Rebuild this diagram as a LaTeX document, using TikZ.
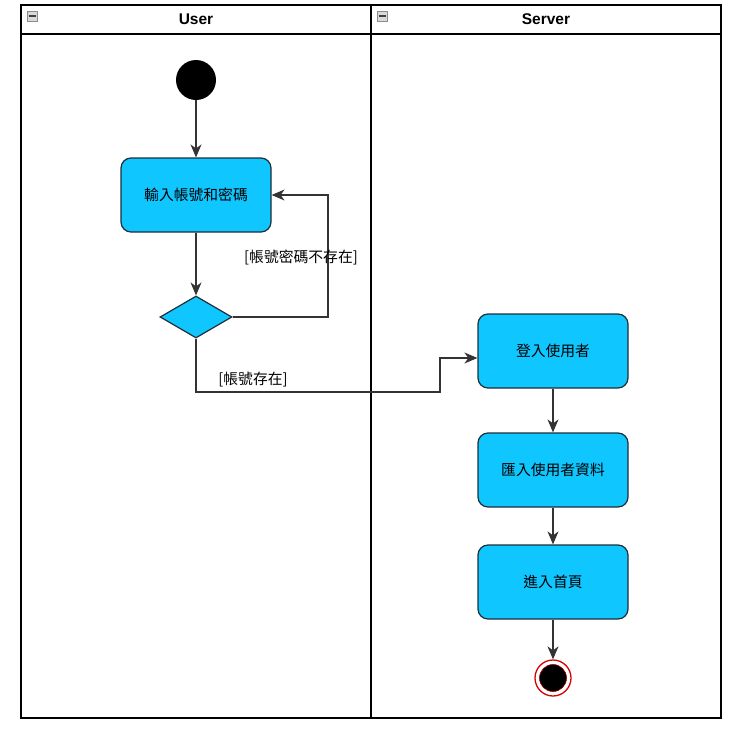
\documentclass[tikz,border=0pt]{standalone}
\usepackage{fontspec}
\setmainfont{Liberation Sans}
\newfontfamily\cjk{Noto Sans CJK TC}
\usetikzlibrary{arrows.meta,shapes.geometric}
\definecolor{actfill}{HTML}{10C6FF}
\definecolor{actdraw}{HTML}{1C2F3A}
\tikzset{
  act/.style={draw=actdraw,fill=actfill,rounded corners=10pt,line width=1.2pt,minimum width=150pt,minimum height=74pt,font=\cjk\fontsize{14.8}{17}\selectfont,inner sep=0pt},
  dec/.style={draw=actdraw,fill=actfill,diamond,aspect=1.7,minimum width=72pt,minimum height=42pt,inner sep=0pt,line width=1.2pt},
  flow/.style={line width=1.2pt,draw=black!80,-{Stealth[length=13pt,width=11pt,inset=4pt]}},
  lbl/.style={font=\cjk\fontsize{14.8}{17}\selectfont,inner sep=0pt},
  lane/.style={line width=1.4pt,draw=black},
  hdr/.style={font=\bfseries\fontsize{15.5}{17}\selectfont,inner sep=0pt},
  icon/.style={draw=black!45,fill=black!15,line width=0.7pt,minimum size=10pt,inner sep=0pt}
}
\begin{document}
\begin{tikzpicture}[x=1pt,y=-1pt]
\useasboundingbox (0,0) rectangle (744,731);
% swimlanes
\draw[lane] (21,5) rectangle (721,718);
\draw[lane] (21,34) -- (721,34);
\draw[lane] (371,5) -- (371,718);
\node[icon] (iu) at (32,16) {};
\draw[line width=1.2pt,black!75] (28.5,16) -- (35.5,16);
\node[icon] (is) at (382,16) {};
\draw[line width=1.2pt,black!75] (378.5,16) -- (385.5,16);
\node[hdr] (hu) at (196,19) {User};
\node[hdr] (hs) at (546,19) {Server};
% nodes
\node[circle,fill=black,minimum size=40pt,inner sep=0pt] (start) at (196,80) {};
\node[act] (input) at (196,195) {輸入帳號和密碼};
\node[dec] (d) at (196,317) {};
\node[act] (login) at (553,351) {登入使用者};
\node[act] (load) at (553,470) {匯入使用者資料};
\node[act] (home) at (553,582) {進入首頁};
\node[circle,draw=red!85!black,fill=white,line width=1.3pt,minimum size=36pt,inner sep=0pt] (endo) at (553,678) {};
\node[circle,fill=black,draw=red!60!black,line width=0.6pt,minimum size=27pt,inner sep=0pt] (endi) at (553,678) {};
\coordinate (c1) at (328,317);
\coordinate (c2) at (328,195);
\coordinate (c3) at (196,392);
\coordinate (c4) at (440,392);
\coordinate (c5) at (440,358);
% edges
\draw[flow] (start) -- (input);
\draw[flow] (input) -- (d.north);
\draw[flow] (d.east) -- (c1) -- (c2) -- (input.east);
\draw[flow] (d.south) -- (c3) -- (c4) -- (c5) -- (login.west |- c5);
\draw[flow] (login) -- (load);
\draw[flow] (load) -- (home);
\draw[flow] (home) -- (endo);
% labels
\node[lbl] (l1) at (301,257) {[帳號密碼不存在]};
\node[lbl] (l2) at (253,380) {[帳號存在]};
\end{tikzpicture}
\end{document}
